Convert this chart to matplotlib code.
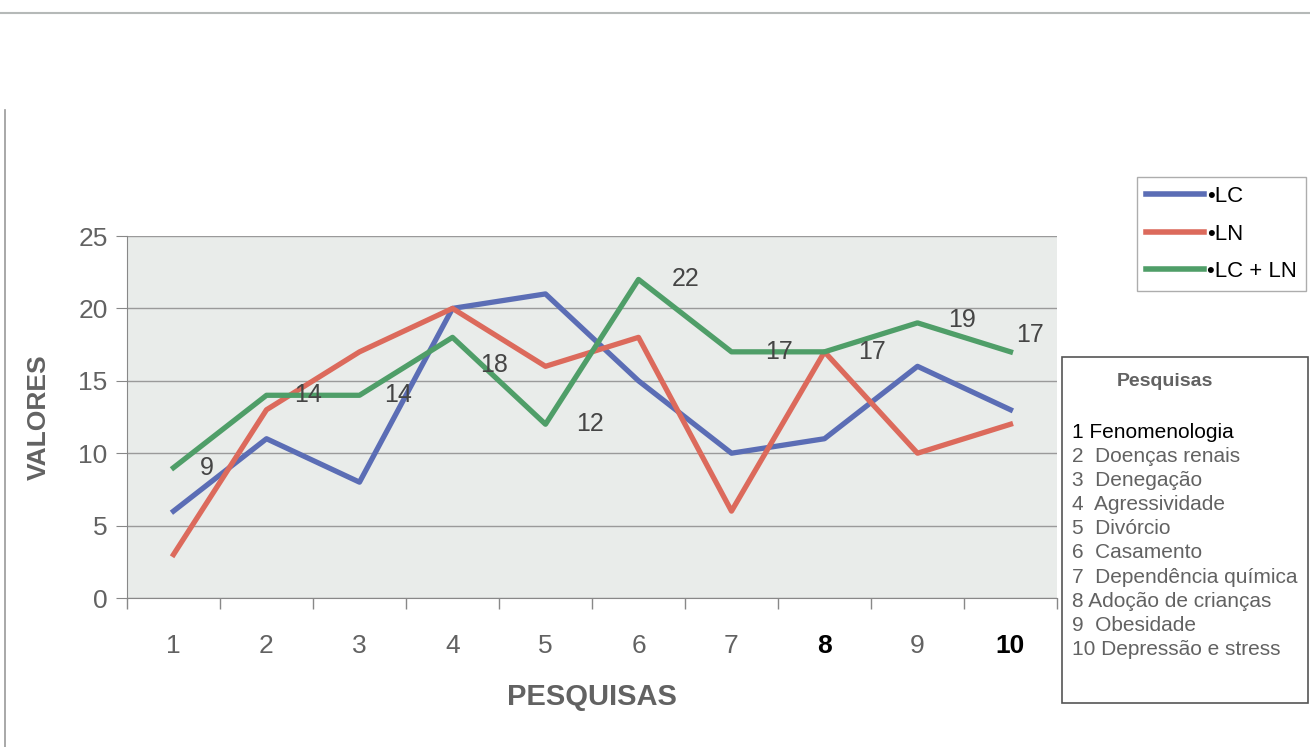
import matplotlib.pyplot as plt
from matplotlib.lines import Line2D
from matplotlib.patches import Rectangle

plt.rcParams['font.family'] = ['Liberation Sans', 'DejaVu Sans']

# data
pesquisas = [1, 2, 3, 4, 5, 6, 7, 8, 9, 10]
lc = [6, 11, 8, 20, 21, 15, 10, 11, 16, 13]
ln = [3, 13, 17, 20, 16, 18, 6, 17, 10, 12]
lc_ln = [9, 14, 14, 18, 12, 22, 17, 17, 19, 17]
series_names = ['•LC', '•LN', '•LC + LN']
temas = ['Fenomenologia', ' Doenças renais', ' Denegação', ' Agressividade',
         ' Divórcio', ' Casamento', ' Dependência química', 'Adoção de crianças',
         ' Obesidade', 'Depressão e stress']

blue = '#5b6db5'
red = '#dc6a5c'
green = '#4f9e68'
grey = '#626262'

fig = plt.figure(figsize=(13.1, 7.47), dpi=100)
ax = fig.add_axes([127 / 1310, 1 - 598 / 747, 930 / 1310, 362 / 747])
ax.set_facecolor('#e9ecea')

ax.plot(pesquisas, lc, color=blue, lw=3.8)
ax.plot(pesquisas, ln, color=red, lw=3.8)
ax.plot(pesquisas, lc_ln, color=green, lw=3.8)

# labels on the green series
offsets = [(24, 0), (30, 0), (28, 0), (30, -20), (32, 0), (34, 0), (34, 0), (34, 0), (32, 2), (14, 12)]
for x, y, off in zip(pesquisas, lc_ln, offsets):
    ax.annotate(str(y), (x, y), xytext=off, textcoords='offset points',
                ha='center', va='center', fontsize=18, color='#454545')

ax.set_xlim(0.5, 10.5)
ax.set_ylim(0, 25)
ax.set_yticks([0, 5, 10, 15, 20, 25])
ax.yaxis.grid(True, color='#9a9a9a', lw=1)
ax.set_axisbelow(True)
ax.set_xticks(pesquisas)
ax.set_xticks([i + 0.5 for i in range(0, 11)], minor=True)
ax.tick_params(axis='x', which='major', length=0, pad=26, labelsize=19, labelcolor=grey)
ax.tick_params(axis='x', which='minor', length=8, color='#888888', width=1)
ax.tick_params(axis='y', length=8, color='#888888', labelsize=19, labelcolor=grey, pad=6)
for lbl in ax.get_xticklabels():
    if lbl.get_text() in ('8', '10'):
        lbl.set_fontweight('bold')
        lbl.set_color('black')
for side in ('top', 'right'):
    ax.spines[side].set_visible(False)
for side in ('left', 'bottom'):
    ax.spines[side].set_color('#888888')

ax.set_ylabel('VALORES', fontsize=19, fontweight='bold', color=grey, labelpad=20)
ax.set_xlabel('PESQUISAS', fontsize=21, fontweight='bold', color=grey, labelpad=18)

# series legend
handles = [Line2D([], [], color=c, lw=4) for c in (blue, red, green)]
fig.legend(handles, series_names, loc='upper left',
           bbox_to_anchor=(1137 / 1310, 1 - 177 / 747), fontsize=16,
           frameon=True, fancybox=False, edgecolor='#999999', handlelength=2.6,
           handletextpad=0.15, labelspacing=0.75, borderpad=0.4, borderaxespad=0)

# box with the list of themes
fig.patches.append(Rectangle((1062 / 1310, 1 - 703 / 747), 246 / 1310, 346 / 747,
                             transform=fig.transFigure, fill=False,
                             edgecolor='#555555', lw=1.2))
fig.text(1165 / 1310, 1 - 382 / 747, 'Pesquisas', ha='center', va='center',
         fontsize=14, fontweight='bold', color=grey)
for i, tema in enumerate(temas):
    fig.text(1072 / 1310, 1 - (432 + i * 24.2) / 747, f'{i + 1} {tema}',
             ha='left', va='center', fontsize=15,
             color='black' if i == 0 else grey)

# page borders of the scan
fig.add_artist(Line2D([0, 1], [1 - 13 / 747] * 2, color='#b5b9b8', lw=1.5))
fig.add_artist(Line2D([5 / 1310] * 2, [0, 1 - 110 / 747], color='#999999', lw=1.2))

fig.savefig('out.png', dpi=100)
